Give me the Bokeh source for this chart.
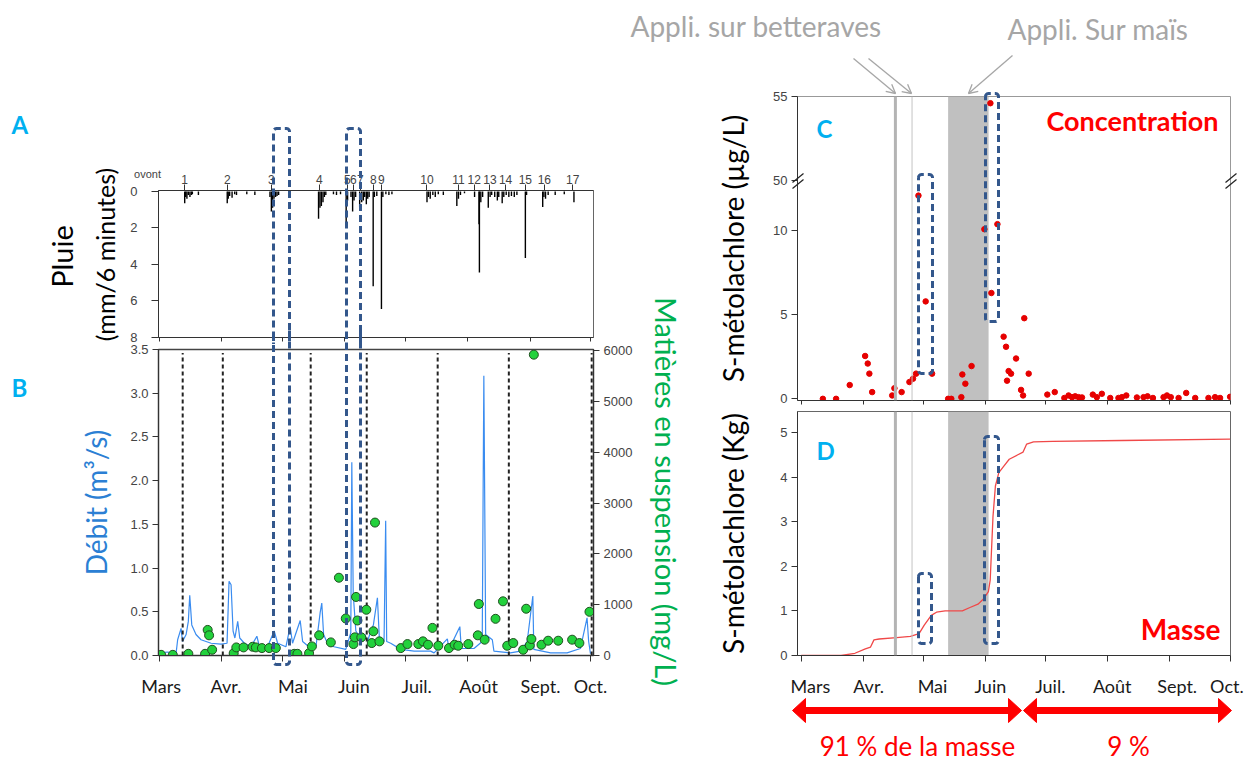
import math
from bokeh.plotting import figure
from bokeh.core.properties import value
from bokeh.models import (Range1d, LinearAxis, FixedTicker, PrintfTickFormatter, Span,
                          BoxAnnotation, GridBox)
from bokeh.embed import file_html
from bokeh.resources import INLINE

# ------------------------------------------------------------------ data
# x values are days counted from 1 March
months = ["Mars", "Avr.", "Mai", "Juin", "Juil.", "Août", "Sept.", "Oct."]
month_start_days = [0, 31, 61, 92, 122, 153, 184, 214]
left_label_days = [1.0, 33.2, 66.4, 96.6, 127.8, 158.5, 189.2, 214.0]
right_label_days = [4.6, 33.6, 65.5, 94.4, 124.3, 155.2, 187.6, 212.4]

event_labels = ["1", "2", "3", "4", "5", "6", "7", "8", "9", "10", "11", "12", "13", "14", "15", "16", "17"]
event_days = [12.7, 33.8, 55.7, 79.5, 93.4, 96.4, 99.8, 106.3, 110.3, 132.9, 148.5, 156.3, 164.1, 171.9, 181.7, 191.1, 205.2]

# rain (mm / 6 minutes)
rain_day = [12.7, 13.2, 13.8, 14.5, 15.3, 16.0, 16.5, 19.5,
            33.8, 34.3, 35.0, 36.2, 37.5, 38.4, 43.5, 47.5,
            55.0, 55.7, 56.3, 57.0, 57.8, 58.5, 59.3,
            79.1, 79.8, 80.5, 81.3, 82.0, 82.7, 86.5, 88.0, 90.0,
            92.8, 93.5, 95.2, 96.0, 96.7, 97.5,
            99.5, 100.5, 101.3, 102.0, 102.8, 103.5, 104.2,
            106.2, 106.8, 108.0, 110.3, 111.0, 112.5, 114.0, 115.5,
            132.9, 133.6, 134.5, 135.8, 137.0, 138.5, 141.0,
            147.7, 148.5, 149.5, 151.5,
            156.5, 158.7, 158.9, 159.6, 160.5,
            163.3, 164.2, 165.0, 166.5, 167.8, 168.5,
            170.2, 171.0, 172.2, 173.5, 174.8, 176.2, 177.5,
            181.7, 182.3, 190.3, 190.9, 191.7, 193.0, 196.5, 201.0, 205.8]
rain_mm = [0.65, 0.3, 0.4, 0.2, 0.3, 0.2, 0.15, 0.2,
           0.65, 0.4, 0.25, 0.35, 0.15, 0.2, 0.15, 0.2,
           0.3, 1.1, 0.9, 0.4, 0.3, 0.25, 0.2,
           1.5, 0.9, 0.8, 0.6, 0.3, 0.2, 0.15, 0.2, 0.15,
           1.9, 0.5, 0.3, 1.1, 0.5, 0.3,
           0.9, 0.6, 0.5, 0.3, 0.7, 0.4, 0.3,
           5.2, 0.3, 0.25, 6.45, 0.3, 0.15, 0.2, 0.15,
           0.6, 0.3, 0.4, 0.2, 0.3, 0.15, 0.2,
           0.8, 0.4, 0.2, 0.1,
           0.3, 1.8, 4.45, 0.6, 0.3,
           0.9, 0.3, 0.2, 0.3, 0.5, 0.3,
           0.65, 0.3, 0.2, 0.3, 0.25, 0.3, 0.2,
           3.65, 0.2, 0.85, 0.3, 0.4, 0.2, 0.2, 0.15, 0.6]

# discharge (m3/s)
debit_day = [0, 4.3, 8.4, 9.2, 10.9, 11.6, 13.4, 14.5, 15.2, 16.2,
             18.3, 20.8, 25.8, 30.7, 33.7, 34.7, 35.7, 36.7, 37.6, 39.0,
             40.0, 42.3, 45.6, 48.5, 49.7, 53.8, 57.1, 58.8, 62.9, 65.0,
             66.2, 70.0, 71.2, 75.3, 77.8, 79.9, 80.7, 81.6, 83.5, 86.8,
             92.6, 95.1, 95.6, 96.3, 97.6, 100.0, 102.0, 103.4, 105.0, 106.3,
             108.3, 109.3, 111.6, 112.4, 112.9, 114.9, 119.9, 126.5, 134.7, 136.4,
             143.0, 143.8, 149.2, 149.9, 156.2, 160.3, 161.1, 162.0, 165.3, 166.1,
             174.3, 179.3, 182.6, 185.4, 185.9, 194.2, 202.4, 209.0, 212.3, 213.1,
             214.0]
debit_q = [0.03, 0.04, 0.02, 0.18, 0.31, 0.16, 0.24, 0.39, 0.69, 0.35,
           0.24, 0.18, 0.14, 0.13, 0.14, 0.85, 0.81, 0.28, 0.20, 0.39,
           0.20, 0.14, 0.10, 0.22, 0.11, 0.10, 0.28, 0.14, 0.10, 0.33,
           0.14, 0.40, 0.16, 0.08, 0.10, 0.49, 0.60, 0.24, 0.14, 0.10,
           0.07, 0.26, 2.21, 0.70, 0.28, 0.20, 0.24, 0.16, 0.28, 0.35,
           0.66, 0.18, 0.16, 1.54, 0.16, 0.14, 0.07, 0.05, 0.05, 0.03,
           0.19, 0.07, 0.33, 0.08, 0.08, 0.16, 3.20, 0.24, 0.18, 0.05,
           0.03, 0.05, 0.16, 0.68, 0.07, 0.03, 0.03, 0.08, 0.43, 0.16,
           0.02]

# suspended matter (mg/L)
mes_day = [1.0, 6.8, 14.5, 22.8, 24.1, 24.8, 26.3, 37.0, 38.3, 41.9,
           46.4, 48.0, 51.0, 54.6, 57.9, 67.0, 68.6, 74.4, 75.8, 79.4,
           85.2, 89.2, 92.6, 96.4, 97.1, 97.7, 98.4, 100.3, 102.8, 105.5,
           106.3, 107.1, 109.3, 119.9, 123.2, 128.6, 130.9, 133.4, 135.6, 138.5,
           143.8, 146.6, 148.4, 153.4, 158.1, 158.6, 161.5, 166.9, 170.6, 172.7,
           175.7, 180.6, 182.1, 183.9, 184.7, 185.9, 189.7, 193.0, 198.0, 204.9,
           208.5, 213.5]
mes_val = [13, 13, 33, 33, 503, 397, 113, 46, 159, 159,
           172, 159, 146, 146, 146, 33, 33, 46, 179, 397,
           258, 1530, 728, 225, 357, 1152, 689, 357, 900, 245,
           477, 2615, 278, 146, 225, 225, 278, 212, 543, 192,
           146, 212, 192, 225, 397, 1013, 311, 722, 1066, 192,
           245, 113, 920, 199, 324, 5918, 212, 291, 291, 311,
           245, 860]

# S-metolachlor concentration (ug/L)
conc_day = [10.8, 17.4, 24.2, 31.9, 33.2, 34.0, 35.4, 45.4, 46.5, 50.1,
            54.0, 55.8, 57.3, 58.5, 62.1, 65.3, 73.3, 74.9, 79.9, 80.4,
            81.9, 85.0, 91.4, 94.4, 94.9, 97.9, 101.0, 102.2, 102.7, 103.5,
            104.7, 107.2, 109.7, 110.7, 111.3, 113.5, 122.8, 126.5, 131.3, 133.4,
            135.1, 136.7, 138.4, 140.1, 145.5, 147.5, 150.0, 154.2, 158.3, 160.0,
            162.2, 167.5, 170.8, 172.8, 175.5, 180.8, 182.5, 184.4, 188.3, 192.1,
            196.6, 203.2, 206.5, 209.0, 214.0]
conc_val = [0, 0, 0.82, 2.55, 2.1, 1.5, 0.4, 0.2, 0.63, 0.4,
            1.0, 1.2, 1.5, 12.1, 5.8, 1.5, 0, 0, 0.1, 1.45,
            0.9, 1.95, 10.1, 54.6, 6.3, 10.4, 3.7, 3.1, 1.08, 1.65,
            1.5, 2.4, 0.53, 0.2, 4.8, 1.5, 0.25, 0.4, 0.05, 0.2,
            0.1, 0.15, 0.1, 0.08, 0.25, 0.1, 0.3, 0.05, 0.05, 0.1,
            0.2, 0.08, 0.1, 0.15, 0.05, 0.1, 0.2, 0.1, 0.05, 0.35,
            0.05, 0.05, 0.1, 0.05, 0.12]

# cumulative S-metolachlor mass (kg)
mass_day = [0, 19.9, 26.8, 32.0, 34.6, 36.3, 38.9, 47.6, 54.5, 58.8,
            61.4, 64.9, 67.5, 71.8, 80.4, 83.9, 88.2, 90.8, 93.4, 94.3,
            95.7, 96.9, 98.6, 101.2, 103.8, 108.1, 110.7, 112.5, 115.9, 125.4,
            160.0, 214.0]
mass_val = [0, 0, 0.05, 0.15, 0.19, 0.35, 0.37, 0.40, 0.43, 0.49,
            0.68, 0.90, 0.97, 1.0, 1.0, 1.07, 1.15, 1.26, 1.43, 1.69,
            3.12, 3.8, 4.1, 4.25, 4.4, 4.5, 4.56, 4.74, 4.79, 4.80,
            4.82, 4.85]

event_start_days = [11.7, 31.6, 75.2, 103.0, 138.2, 173.5, 214.6]
appli_betteraves_days = [47.0, 55.3]
appli_mais_period = [73.3, 93.5]

# ------------------------------------------------------------------ styles
TICK_FONT = "Liberation Sans"
TXT_FONT = "Lato"
CYAN = "#00b0f0"
RED = "#ff0000"
BOXC = "#33578c"
GRAYTXT = "#a6a6a6"


class Geo:
    """maps page pixel positions of a panel's frame to its data space (for decorations)"""
    def __init__(self, fx0, fx1, fy0, fy1, xr0, xr1, ytop, ybot):
        self.fx0, self.fx1, self.fy0, self.fy1 = fx0, fx1, fy0, fy1
        self.xr0, self.xr1, self.ytop, self.ybot = xr0, xr1, ytop, ybot

    def x(self, px):
        return self.xr0 + (px - self.fx0) * (self.xr1 - self.xr0) / (self.fx1 - self.fx0)

    def y(self, py):
        return self.ytop + (py - self.fy0) * (self.ybot - self.ytop) / (self.fy1 - self.fy0)


def make_fig(w, h, xr, yr, left, right, top, bottom):
    p = figure(width=w, height=h, x_range=xr, y_range=yr, output_backend="svg",
               toolbar_location=None, x_axis_type=None, y_axis_type=None,
               min_border_left=left, min_border_right=right,
               min_border_top=top, min_border_bottom=bottom)
    p.background_fill_color = "white"
    p.border_fill_color = "white"
    p.outline_line_color = "#666666"
    p.outline_line_width = 1
    p.xgrid.visible = False
    p.ygrid.visible = False
    return p


def style_axis(ax, size="13px"):
    ax.major_label_text_font = TICK_FONT
    ax.major_label_text_font_size = size
    ax.major_label_text_color = "#444444"
    ax.axis_line_color = "#333333"
    ax.major_tick_line_color = "#333333"
    ax.minor_tick_line_color = "#333333"
    ax.major_tick_out = 6
    ax.major_tick_in = 0
    ax.minor_tick_out = 0
    ax.minor_tick_in = 0
    ax.major_label_standoff = 4
    ax.axis_label_text_font = TXT_FONT
    ax.axis_label_text_font_style = "normal"
    ax.axis_label_text_font_size = "28px"
    ax.axis_label_text_color = "black"


def month_axis(label_days):
    ax = LinearAxis(ticker=FixedTicker(ticks=label_days, minor_ticks=month_start_days))
    style_axis(ax)
    ax.major_label_overrides = {d: m for d, m in zip(label_days, months)}
    ax.major_label_text_font = TXT_FONT
    ax.major_label_text_font_size = "18px"
    ax.major_label_text_color = "#1a1a1a"
    ax.major_tick_out = 0
    ax.minor_tick_out = 6
    ax.major_label_standoff = 13
    return ax


def ticks_only_axis():
    ax = LinearAxis(ticker=FixedTicker(ticks=month_start_days))
    style_axis(ax)
    ax.major_label_overrides = {d: "" for d in month_start_days}
    ax.major_label_standoff = 0
    ax.major_tick_out = 4
    return ax


def txt(p, g, px, py, s, size, color, align="left", bold=False, angle=0.0, font=TXT_FONT):
    p.text(x=[g.x(px)], y=[g.y(py)], text=[s], angle=angle, text_font=value(font),
           text_font_size=value(size), text_color=color, text_align=align,
           text_baseline="middle", text_font_style="bold" if bold else "normal", level="overlay")


def draw_box(p, g, x0, x1, yt, yb, part="all", r=3.0):
    def arc(cx, cy, a0, a1, n=5):
        out = []
        for i in range(n + 1):
            a = math.radians(a0 + (a1 - a0) * i / n)
            out.append((cx + r * math.cos(a), cy - r * math.sin(a)))
        return out
    tl = arc(x0 + r, yt + r, 180, 90)
    tr = arc(x1 - r, yt + r, 90, 0)
    br = arc(x1 - r, yb - r, 0, -90)
    bl = arc(x0 + r, yb - r, -90, -180)
    if part == "top":
        pts = [(x0, yb)] + tl + tr + [(x1, yb)]
    elif part == "bottom":
        pts = [(x1, yt)] + br + bl + [(x0, yt)]
    else:
        pts = tl + tr + br + bl + [tl[0]]
    p.line([g.x(q[0]) for q in pts], [g.y(q[1]) for q in pts], line_color=BOXC,
           line_width=3, line_dash="7 4", level="overlay")


def open_arrow(p, g, x0, y0, x1, y1, color, head=10.0):
    p.segment(x0=[g.x(x0)], y0=[g.y(y0)], x1=[g.x(x1)], y1=[g.y(y1)],
              line_color=color, line_width=1.3, level="overlay")
    ang = math.atan2(y1 - y0, x1 - x0)
    for da in (math.radians(28), -math.radians(28)):
        hx = x1 - head * math.cos(ang + da)
        hy = y1 - head * math.sin(ang + da)
        p.segment(x0=[g.x(hx)], y0=[g.y(hy)], x1=[g.x(x1)], y1=[g.y(y1)],
                  line_color=color, line_width=1.3, level="overlay")


def double_arrow(p, g, x0, x1, y, color, hl=13, hw=12):
    p.segment(x0=[g.x(x0 + hl - 1)], y0=[g.y(y)], x1=[g.x(x1 - hl + 1)], y1=[g.y(y)],
              line_color=color, line_width=7, level="overlay")
    for tip, base in ((x0, x0 + hl), (x1, x1 - hl)):
        xs = [tip, base, base]
        ys = [y, y - hw, y + hw]
        p.patch([g.x(v) for v in xs], [g.y(v) for v in ys], fill_color=color,
                line_color=color, line_width=1, level="overlay")


# ------------------------------------------------------------------ panel A (rain)
gA = Geo(158, 593, 190, 337, -0.3, 215.5, -0.05, 8.02)
xl = Range1d(-0.3, 215.5)
pA = make_fig(625, 343, xl, Range1d(8.02, -0.05), 158, 32, 189, 7)
axA = LinearAxis(ticker=FixedTicker(ticks=[0, 2, 4, 6, 8]))
style_axis(axA)
axA.major_tick_out = 7
axA.major_label_standoff = 14
pA.add_layout(axA, "left")
axEv = LinearAxis(ticker=FixedTicker(ticks=event_days))
style_axis(axEv, "12px")
axEv.major_label_overrides = {d: l for d, l in zip(event_days, event_labels)}
axEv.major_tick_out = 6
axEv.major_label_standoff = 1
pA.add_layout(axEv, "above")
pA.add_layout(ticks_only_axis(), "below")
pA.segment(x0=rain_day, y0=[0] * len(rain_day), x1=rain_day, y1=rain_mm,
           line_color="black", line_width=1.4)
txt(pA, gA, 61, 256, "Pluie", "29px", "black", "center", angle=math.pi / 2)
txt(pA, gA, 104, 254, "(mm/6 minutes)", "25px", "black", "center", angle=math.pi / 2)
txt(pA, gA, 147, 173, "ovont", "11px", "#444444", "center", font=TICK_FONT)
txt(pA, gA, 11, 124, "A", "24px", CYAN, "left", bold=True)
draw_box(pA, gA, 273, 289, 128, 360, "top")
draw_box(pA, gA, 346, 360, 128, 360, "top")

# ------------------------------------------------------------------ panel B (discharge + MES)
# B's canvas starts at y=296 and overlaps A's bottom margin (transparent border)
gB = Geo(158, 593, 349, 655, -0.3, 215.5, 3.5, 0)
pB = make_fig(690, 464, xl, Range1d(0, 3.5), 158, 97, 53, 105)
pB.border_fill_color = None
pB.outline_line_color = "#444444"
pB.outline_line_width = 1.5
pB.extra_y_ranges = {"mes": Range1d(0, 6020)}
axB = LinearAxis(ticker=FixedTicker(ticks=[0, 0.5, 1.0, 1.5, 2.0, 2.5, 3.0, 3.5]),
                 formatter=PrintfTickFormatter(format="%.1f"))
style_axis(axB)
axB.axis_label = "Débit (m³/s)"
axB.axis_label_text_color = "#2b7fd4"
axB.axis_label_standoff = 14
pB.add_layout(axB, "left")
axM = LinearAxis(y_range_name="mes", ticker=FixedTicker(ticks=[0, 1000, 2000, 3000, 4000, 5000, 6000]))
style_axis(axM)
pB.add_layout(axM, "right")
pB.add_layout(month_axis(left_label_days), "below")
pB.line(debit_day, debit_q, line_color="#3a8cf0", line_width=1.2)
pB.segment(x0=event_start_days, y0=[0] * len(event_start_days), x1=event_start_days,
           y1=[3.46] * len(event_start_days), line_color="#222222", line_width=2, line_dash="4 3")
pB.scatter(mes_day, mes_val, y_range_name="mes", size=9, fill_color="#22d13c",
           line_color="#1f4f1f", line_width=1)
txt(pB, gB, 666, 491, "Matières en suspension (mg/L)", "29px", "#00b050", "center", angle=-math.pi / 2)
txt(pB, gB, 11, 387, "B", "24px", CYAN, "left", bold=True)
draw_box(pB, gB, 273, 289, 330, 664, "bottom")
draw_box(pB, gB, 346, 360, 330, 664, "bottom")


# ------------------------------------------------------------------ panel C (concentration)
def brk(v):
    return v if v <= 13 else v - 37


gC = Geo(797, 1230, 96, 400, -1.85, 214.2, 18.0, -0.1)
xr = Range1d(-1.85, 214.2)
pC = make_fig(626, 405, xr, Range1d(-0.1, 18.0), 172, 21, 96, 5)
pC.outline_line_color = "#999999"
axC = LinearAxis(ticker=FixedTicker(ticks=[0, 5, 10, 13, 18]))
style_axis(axC)
axC.major_label_overrides = {13: "50", 18: "55"}
axC.axis_label = "S-métolachlore (µg/L)"
axC.axis_label_standoff = 20
pC.add_layout(axC, "left")
pC.add_layout(ticks_only_axis(), "below")
pC.add_layout(BoxAnnotation(left=appli_mais_period[0], right=appli_mais_period[1],
                            fill_color="#c0c0c0", fill_alpha=1, line_alpha=0, level="underlay"))
pC.add_layout(Span(location=appli_betteraves_days[0], dimension="height", line_color="#b4b4b4", line_width=3))
pC.add_layout(Span(location=appli_betteraves_days[1], dimension="height", line_color="#c4c4c4", line_width=1))
pC.scatter(conc_day, [brk(v) for v in conc_val], size=5.5, fill_color="#e60000", line_color="#e60000")
for xb in (797, 1230):
    pC.segment(x0=[gC.x(xb - 5), gC.x(xb - 5)], y0=[gC.y(182), gC.y(188)],
               x1=[gC.x(xb + 6), gC.x(xb + 6)], y1=[gC.y(173), gC.y(179)],
               line_color="#222222", line_width=1.2, level="overlay")
txt(pC, gC, 816, 128, "C", "24px", CYAN, "left", bold=True)
txt(pC, gC, 1218, 120, "Concentration", "27px", RED, "right", bold=True)
txt(pC, gC, 630, 25, "Appli. sur betteraves", "28px", GRAYTXT, "left")
txt(pC, gC, 1007, 28, "Appli. Sur maïs", "28px", GRAYTXT, "left")
open_arrow(pC, gC, 853, 58, 895, 93, GRAYTXT)
open_arrow(pC, gC, 868, 58, 911, 93, GRAYTXT)
open_arrow(pC, gC, 1012, 55, 968, 93, GRAYTXT)
draw_box(pC, gC, 918, 932, 174, 373)
draw_box(pC, gC, 985, 998, 93, 321)

# ------------------------------------------------------------------ panel D (mass)
gD = Geo(797, 1230, 411, 655, -1.85, 214.2, 5.47, 0)
pD = make_fig(561, 355, xr, Range1d(0, 5.47), 107, 21, 6, 105)
axD = LinearAxis(ticker=FixedTicker(ticks=[0, 1, 2, 3, 4, 5]))
style_axis(axD)
axD.axis_label = "S-métolachlore (Kg)"
axD.axis_label_standoff = 27
pD.add_layout(axD, "left")
pD.add_layout(month_axis(right_label_days), "below")
pD.add_layout(BoxAnnotation(left=appli_mais_period[0], right=appli_mais_period[1],
                            fill_color="#c0c0c0", fill_alpha=1, line_alpha=0, level="underlay"))
pD.add_layout(Span(location=appli_betteraves_days[0], dimension="height", line_color="#b4b4b4", line_width=3))
pD.add_layout(Span(location=appli_betteraves_days[1], dimension="height", line_color="#c4c4c4", line_width=1))
pD.line(mass_day, mass_val, line_color="#f04848", line_width=1.3)
txt(pD, gD, 816, 450, "D", "24px", CYAN, "left", bold=True)
txt(pD, gD, 1220, 628, "Masse", "28px", RED, "right", bold=True)
draw_box(pD, gD, 918, 931, 573, 643)
draw_box(pD, gD, 984, 998, 436, 643)
double_arrow(pD, gD, 792, 1021, 710, RED)
double_arrow(pD, gD, 1023, 1231, 710, RED)
txt(pD, gD, 917, 745, "91 % de la masse", "26px", RED, "center")
txt(pD, gD, 1128, 745, "9 %", "26px", RED, "center")

# ------------------------------------------------------------------ layout
grid = GridBox(children=[(pC, 0, 1, 4, 2), (pA, 1, 0, 2, 1), (pB, 2, 0, 3, 2), (pD, 4, 2, 1, 1)],
               rows=["1px", "295px", "48px", "61px", "355px"], cols=["625px", "65px", "561px"], spacing=0)

open("out.html", "w").write(file_html(grid, INLINE))
